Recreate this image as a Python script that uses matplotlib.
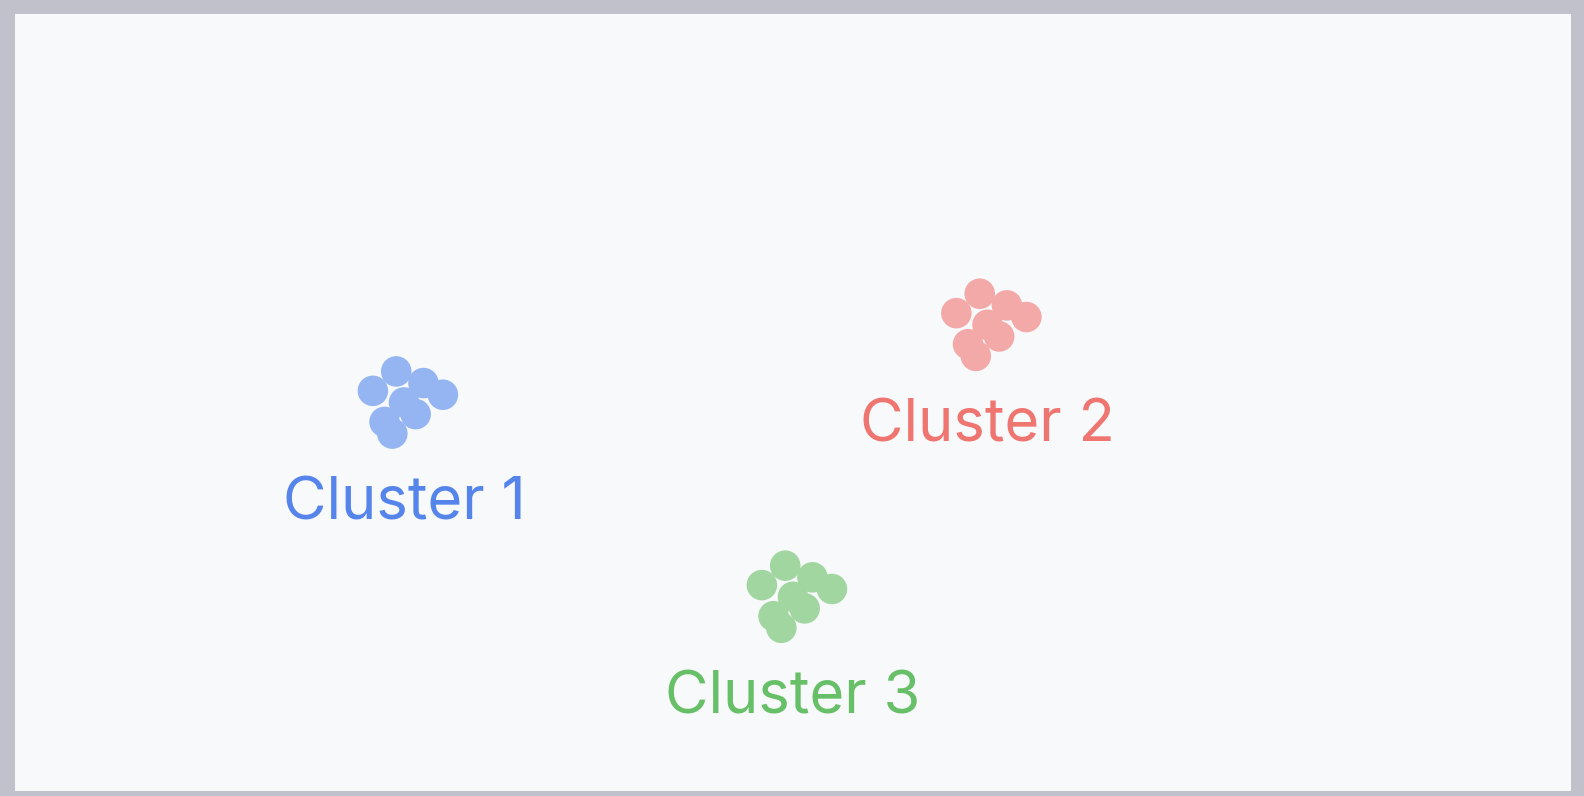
import matplotlib.pyplot as plt

plt.rcParams['font.family'] = ['Inter', 'DejaVu Sans']

# cluster points (x, y)
c1_x = [24.5, 23.0, 26.25, 27.5, 25.0, 25.75, 23.75, 24.25]
c1_y = [27.0, 25.75, 26.25, 25.5, 25.0, 24.25, 23.75, 23.0]
c2_x = [62.0, 60.5, 63.75, 65.0, 62.5, 63.25, 61.25, 61.75]
c2_y = [32.0, 30.75, 31.25, 30.5, 30.0, 29.25, 28.75, 28.0]
c3_x = [49.5, 48.0, 51.25, 52.5, 50.0, 50.75, 48.75, 49.25]
c3_y = [14.5, 13.25, 13.75, 13.0, 12.5, 11.75, 11.25, 10.5]

labels = ['Cluster 1', 'Cluster 2', 'Cluster 3']
label_x = [25.0, 62.5, 50.0]
label_y = [17.5, 22.5, 5.0]

text_colors = ['#5585ea', '#ef7571', '#67bf67']
point_colors = ['#95b5f2', '#f3a9a8', '#a1d6a1']

fig = plt.figure(figsize=(15.84, 7.96), dpi=100, facecolor='#c0c1ca')
ax = fig.add_axes([15 / 1584, 5 / 796, 1556 / 1584, 777 / 796])
ax.set_facecolor('#f8f9fb')
ax.set_xlim(0, 100)
ax.set_ylim(0, 50)
for s in ax.spines.values():
    s.set_visible(False)
ax.set_xticks([])
ax.set_yticks([])

for xs, ys, pc in zip([c1_x, c2_x, c3_x], [c1_y, c2_y, c3_y], point_colors):
    ax.scatter(xs, ys, s=484, color=pc, edgecolors='none', zorder=2)

for lab, lx, ly, tc in zip(labels, label_x, label_y, text_colors):
    ax.text(lx, ly, lab, color=tc, fontsize=43, ha='center', va='baseline', zorder=3)

fig.savefig('out.png', dpi=100, facecolor=fig.get_facecolor())
